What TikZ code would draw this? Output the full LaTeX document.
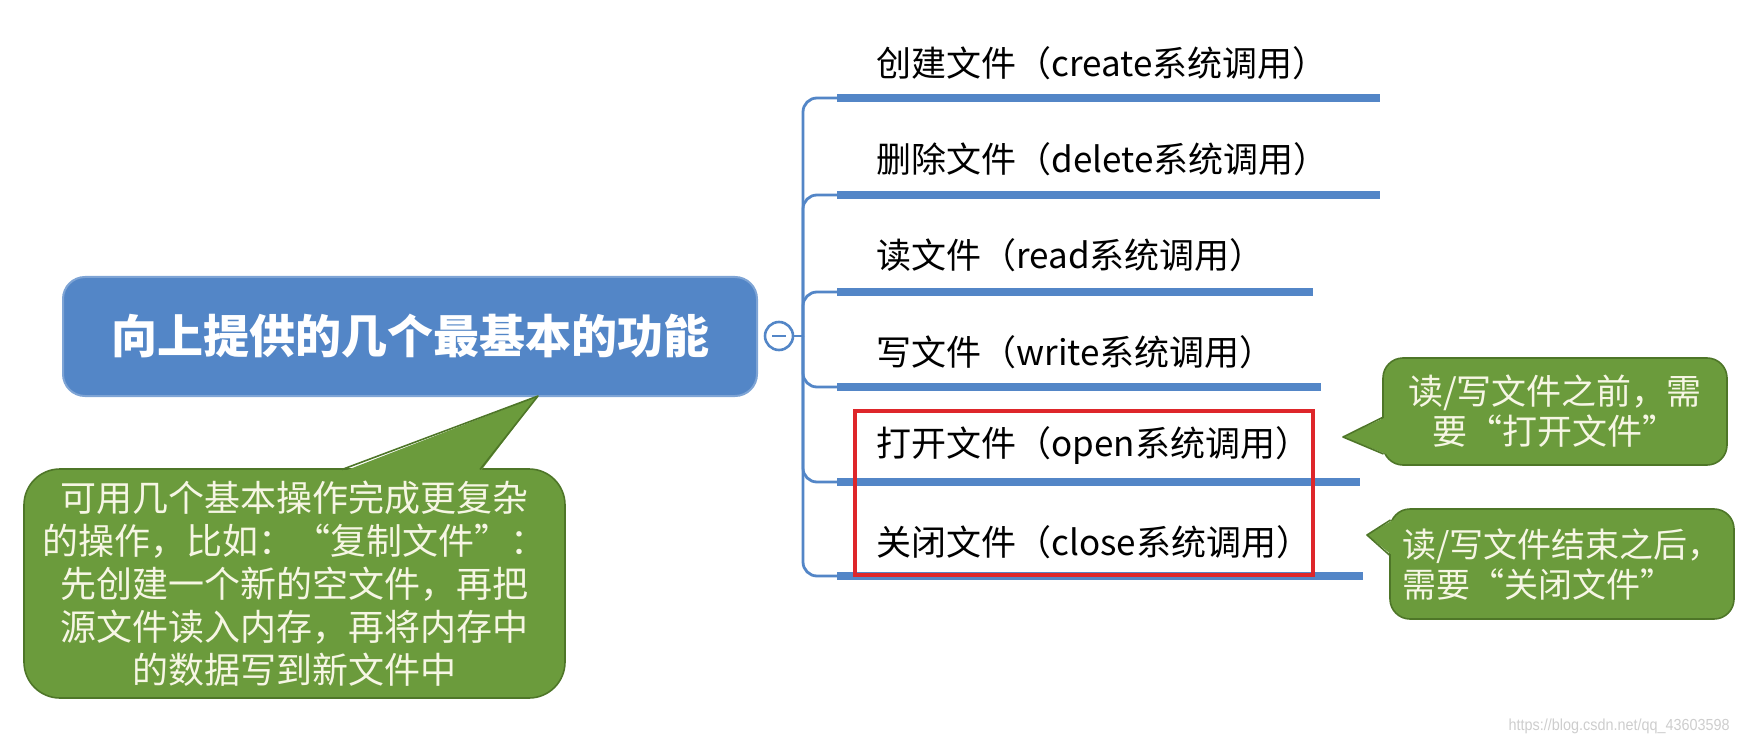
\documentclass[tikz,border=0pt]{standalone}
\usepackage{fontspec}
\setmainfont{Liberation Sans}
\newfontfamily\cjk{Noto Sans CJK SC}
\definecolor{mainblue}{RGB}{83,134,199}
\definecolor{bargreen}{RGB}{107,155,60}
\definecolor{edgegreen}{RGB}{78,118,40}
\definecolor{notetext}{RGB}{246,246,228}
\definecolor{boxred}{RGB}{222,38,42}
\definecolor{wmgray}{RGB}{205,205,205}
\begin{document}
\begin{tikzpicture}[x=0.5pt,y=-0.5pt,
  central/.style={fill=mainblue,draw=mainblue!75!white,line width=1pt,rounded corners=11pt,
    minimum width=347pt,minimum height=59.5pt,inner sep=0pt,text=white,
    font=\cjk\bfseries\fontsize{23}{28}\selectfont},
  collapse/.style={circle,draw=mainblue,fill=white,line width=1.3pt,minimum size=14pt,inner sep=0pt},
  conn/.style={draw=mainblue,line width=1.4pt,rounded corners=7pt},
  bar/.style={draw=mainblue,line width=4pt,line cap=butt},
  label/.style={anchor=west,inner sep=0pt,text=black,font=\cjk\fontsize{17.5}{21}\selectfont},
  note/.style={fill=bargreen,draw=edgegreen,line width=0.8pt,text=notetext,inner sep=0pt},
  pointer/.style={fill=bargreen},
  pointeredge/.style={draw=edgegreen,line width=0.8pt,line join=round},
  redbox/.style={draw=boxred,line width=1.6pt}
]
\useasboundingbox (0,0) rectangle (1745,743);

% central node
\node[central] (main) at (410,336.5) {向上提供的几个最基本的功能};

% collapse circle
\node[collapse] (circ) at (779,336) {};
\draw[draw=mainblue,line width=1.2pt] (772,336) -- (786,336);

% hub and bars
\coordinate (hub) at (803,336);
\draw[conn] (circ.east) -- (hub);
\foreach \i/\y/\e in {1/98/1380,2/195/1380,3/292/1313,4/387/1321,5/482/1360,6/576/1363}{
  \coordinate (bs\i) at (837,\y);
  \coordinate (be\i) at (\e,\y);
  \draw[conn] (hub) |- (bs\i);
  \draw[bar] (bs\i) -- (be\i);
}

% labels
\node[label] (l1) at (876,63) {创建文件（create系统调用）};
\node[label] (l2) at (876,159) {删除文件（delete系统调用）};
\node[label] (l3) at (876,255) {读文件（read系统调用）};
\node[label] (l4) at (876,352) {写文件（write系统调用）};
\node[label] (l5) at (876,446) {打开文件（open系统调用）};
\node[label] (l6) at (876,542) {关闭文件（close系统调用）};

% red frame
\node[redbox,minimum width=229pt,minimum height=82pt,inner sep=0pt] (frame) at (1084,493) {};

% note 1
\node[note,rounded corners=18pt,minimum width=270.5pt,minimum height=114.5pt,
  align=center,font=\cjk\fontsize{18}{21.5}\selectfont] (n1) at (294.5,583.5)
  {可用几个基本操作完成更复杂\\的操作，比如：“复制文件”：\\先创建一个新的空文件，再把\\源文件读入内存，再将内存中\\的数据写到新文件中};
\coordinate (t1) at (538,396);
\fill[pointer] (342,472) -- (t1) -- (480,472) -- cycle;
\draw[pointeredge] (342,469.5) -- (t1) -- (480,469.5);

% note 2
\node[note,rounded corners=10pt,minimum width=172pt,minimum height=53.5pt,
  align=center,font=\cjk\fontsize{17.5}{20}\selectfont] (n2) at (1555,411.5)
  {读/写文件之前，需\\要“打开文件”};
\coordinate (t2) at (1343,437);
\fill[pointer] (1386,417) -- (t2) -- (1386,454) -- cycle;
\draw[pointeredge] (1383.5,417) -- (t2) -- (1383.5,454);

% note 3
\node[note,rounded corners=10pt,minimum width=172pt,minimum height=55pt,
  align=left,font=\cjk\fontsize{17}{20}\selectfont] (n3) at (1562,564)
  {读/写文件结束之后，\\需要“关闭文件”};
\coordinate (t3) at (1367,535);
\fill[pointer] (1393,520) -- (t3) -- (1393,556) -- cycle;
\draw[pointeredge] (1390.5,520) -- (t3) -- (1390.5,556);

% watermark
\node[anchor=east,inner sep=0pt,text=wmgray,font=\fontsize{8}{9}\selectfont,xscale=0.9] (wm) at (1730,726) {https://blog.csdn.net/qq\_43603598};
\end{tikzpicture}
\end{document}
